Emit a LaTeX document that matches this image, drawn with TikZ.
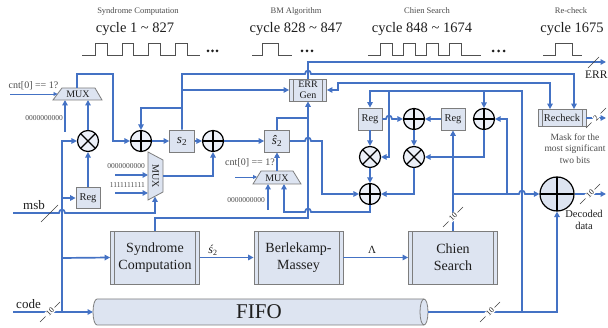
\documentclass[tikz,border=0pt]{standalone}
\usepackage{fontspec}
\setmainfont{Liberation Serif}
\usetikzlibrary{arrows.meta}
\definecolor{wireblue}{RGB}{68,114,196}
\definecolor{boxfill}{RGB}{221,228,241}
\definecolor{cfill}{RGB}{236,240,248}
\definecolor{boxline}{RGB}{125,125,125}
\definecolor{txt}{RGB}{30,30,30}
\definecolor{gtxt}{RGB}{75,75,75}
\definecolor{wavec}{RGB}{80,80,80}
\newcommand{\busmark}[4]{%
  \draw[black!75, line width=0.6pt] (#2-10,#3+10) -- (#2-4.5,#3+4.5) (#2+4.5,#3-4.5) -- (#2+10,#3-10);
  \node[rotate=45, font={\fontsize{8}{8}\selectfont}, inner sep=0.6pt, fill=white, text=txt] (#1) at (#2,#3) {#4};}
\tikzset{
  wr/.style={draw=wireblue, line width=1.7pt},
  arr/.style={wr, -{Triangle[length=5.5pt,width=5.5pt]}},
  arrtwo/.style={wr, {Triangle[length=5.5pt,width=5.5pt]}-{Triangle[length=5.5pt,width=5.5pt]}},
  thinarr/.style={draw=wireblue, line width=0.9pt, -{Triangle[length=4pt,width=4pt]}},
  blk/.style={draw=boxline, fill=boxfill, line width=0.8pt, inner sep=0pt, text=txt},
  proc/.style={blk, path picture={\draw[boxline, line width=0.8pt]
      ([xshift=4pt]path picture bounding box.south west) -- ([xshift=4pt]path picture bounding box.north west)
      ([xshift=-4pt]path picture bounding box.south east) -- ([xshift=-4pt]path picture bounding box.north east);}},
  opl/.style={circle, draw=black, line width=1.2pt, fill=cfill, minimum size=21pt, inner sep=0pt,
    path picture={\draw[line width=1.2pt] (path picture bounding box.north) -- (path picture bounding box.south)
      (path picture bounding box.west) -- (path picture bounding box.east);}},
  oti/.style={circle, draw=black, line width=1.2pt, fill=cfill, minimum size=21pt, inner sep=0pt,
    path picture={\draw[line width=1.2pt] (path picture bounding box.north west) -- (path picture bounding box.south east)
      (path picture bounding box.south west) -- (path picture bounding box.north east);}},
  wavepath/.style={draw=wavec, line width=0.9pt},
  zlab/.style={font={\fontsize{7.5}{8}\selectfont}, text=gtxt, anchor=east, inner sep=0pt},
  cntlab/.style={font={\fontsize{10}{10}\selectfont}, text=gtxt, inner sep=0pt},
  hd/.style={font={\fontsize{8.5}{9}\selectfont}, text=gtxt},
  cyc/.style={font={\fontsize{14.5}{14.5}\selectfont}, text=txt},
  muxtxt/.style={font={\fontsize{10}{10}\selectfont}, inner sep=0pt, text=txt},
  regbox/.style={blk, minimum width=24pt, minimum height=22pt, font={\fontsize{10.5}{10.5}\selectfont}},
  bigbox/.style={proc, minimum width=89pt, minimum height=53pt, align=center, font={\fontsize{14}{17}\selectfont}},
  slashline/.style={black!75, line width=0.6pt}
}
\begin{document}
\begin{tikzpicture}[x=1pt,y=-1pt]
\useasboundingbox (0,0) rectangle (608,328);
% ---------- timing ----------
\node[hd] (hd1) at (138,11) {Syndrome Computation};
\node[cyc] (cy1) at (135,29) {cycle 1 \textasciitilde{} 827};
\node[hd] (hd2) at (296,11) {BM Algorithm};
\node[cyc] (cy2) at (296,29) {cycle 828 \textasciitilde{} 847};
\node[hd] (hd3) at (427,11) {Chien Search};
\node[cyc] (cy3) at (422,29) {cycle 848 \textasciitilde{} 1674};
\node[hd] (hd4) at (571,11) {Re-check};
\node[cyc] (cy4) at (572,29) {cycle 1675};
\draw[wavepath] (82,55) -- (95,55) -- (95,43) -- (107,43) -- (107,55) -- (122,55) -- (122,43) -- (133,43) -- (133,55)
  -- (148,55) -- (148,43) -- (160,43) -- (160,55) -- (175,55) -- (175,43) -- (187,43) -- (187,55) -- (200,55);
\draw[wavepath] (252,55) -- (262,55) -- (262,43) -- (278,43) -- (278,55) -- (292,55);
\draw[wavepath] (368,55) -- (380,55) -- (380,43) -- (392,43) -- (392,55) -- (403,55) -- (403,43) -- (415,43) -- (415,55)
  -- (426,55) -- (426,43) -- (438,43) -- (438,55) -- (449,55) -- (449,43) -- (461,43) -- (461,55) -- (481,55);
\draw[wavepath] (543,55) -- (555,55) -- (555,43) -- (572,43) -- (572,55) -- (582,55);
\foreach \x in {208,212.5,217,302,307,312,493,498.5,504} \fill[txt] (\x,51) circle (1.5pt);
% ---------- nodes ----------
\node[oti] (ot1) at (88,141) {};
\node[opl] (op1) at (141,141) {};
\node[opl] (op2) at (213,141) {};
\node[oti] (ot2) at (370,157) {};
\node[oti] (ot3) at (414,157) {};
\node[opl] (op3) at (414,119) {};
\node[opl] (op4) at (484,119) {};
\node[opl] (op5) at (370,194) {};
\node[opl, minimum size=34pt, fill=boxfill] (opb) at (557,194) {};
\node[blk, minimum width=25pt, minimum height=22pt, font={\fontsize{13}{13}\selectfont}] (s2) at (182,141) {\textit{s}\textsubscript{2}};
\node[blk, minimum width=25pt, minimum height=22pt, font={\fontsize{13}{13}\selectfont}] (sh2) at (277,141) {\textit{ŝ}\textsubscript{2}};
\node[regbox, minimum height=21pt] (reg1) at (88,198) {Reg};
\node[regbox] (reg2) at (370,119) {Reg};
\node[regbox] (reg3) at (453,119) {Reg};
\node[proc, minimum width=37pt, minimum height=22pt, align=center, font={\fontsize{10}{11}\selectfont}] (errg) at (308,90) {ERR\\Gen};
\node[proc, minimum width=48pt, minimum height=17pt, font={\fontsize{10.5}{10.5}\selectfont}] (rchk) at (562,118) {Recheck};
\node[bigbox] (sc) at (155,257.5) {Syndrome\\Computation};
\node[bigbox] (bm) at (298.5,257.5) {Berlekamp-\\Massey};
\node[bigbox] (cs) at (453,257.5) {Chien\\Search};
% MUXes
\draw[blk] (53,100) -- (62,88) -- (95,88) -- (102,100) -- cycle;
\node[muxtxt] (mux1) at (78,94.5) {MUX};
\draw[blk] (148,152) -- (163,160) -- (163,192) -- (148,200) -- cycle;
\node[muxtxt, rotate=-90] (mux2) at (155.5,176) {MUX};
\draw[blk] (253,184) -- (261,171) -- (293,171) -- (301,184) -- cycle;
\node[muxtxt] (mux3) at (277,178) {MUX};
% FIFO
\filldraw[blk] (97,299) -- (424,299) arc[start angle=270, end angle=450, x radius=4, y radius=13]
  -- (97,325) arc[start angle=90, end angle=270, x radius=4, y radius=13] -- cycle;
\draw[boxline, line width=0.8pt] (424,299) arc[start angle=270, end angle=90, x radius=4, y radius=13];
\node[font={\fontsize{21}{21}\selectfont}, text=txt] (fifo) at (259,312) {FIFO};
% ---------- labels ----------
\node[cntlab] (cnt1) at (33.5,86) {cnt[0] == 1?};
\node[cntlab] (cnt2) at (250,163) {cnt[0] == 1?};
\node[zlab] (z1) at (63,118) {0000000000};
\node[zlab] (z2) at (145,166) {0000000000};
\node[zlab] (z3) at (145,185) {1111111111};
\node[zlab] (z4) at (265,200) {0000000000};
\node[font={\fontsize{13}{13}\selectfont}, text=txt] (codel) at (28.5,304) {code};
\node[font={\fontsize{13}{13}\selectfont}, text=txt] (msbl) at (34,205) {msb};
\node[font={\fontsize{12}{12}\selectfont}, text=txt] (s2l) at (213,250) {\textit{ś}\textsubscript{2}};
\node[font={\fontsize{11}{11}\selectfont}, text=txt] (laml) at (372,250) {Λ};
\node[font={\fontsize{11.5}{11.5}\selectfont}, text=txt, anchor=west, inner sep=0pt] (errl) at (585,75) {ERR};
\node[font={\fontsize{9.5}{11.5}\selectfont}, text=gtxt, align=center] (mask) at (575,148.5) {Mask for the\\most significant\\two bits};
\node[font={\fontsize{10.5}{12}\selectfont}, text=txt, align=center] (decl) at (584,220) {Decoded\\data};
% ---------- wires ----------
\draw[thinarr] (10,94) -- (57.5,94);
\draw[arr] (65,132) -- (65,100);
\draw[arr] (ot1.north) -- (88,100);
\draw[arr] (77,88) -- (77,74) -- (113,74) -- (113,141) -- (op1.west);
\draw[arr] (62,312) -- (62,141) -- (ot1.west);
\draw[arr] (62,198) -- (reg1.west);
\draw[arr] (62,258) -- (sc.west);
\draw[arr] (reg1.north) -- (ot1.south);
\draw[arr] (13,312) -- (93,312);
\busmark{bcode}{50}{312}{10}
\draw[arr] (13,213) -- (59,213) .. controls (59,208.5) and (65,208.5) .. (65,213) -- (155,213) -- (155,196.5);
\draw[slashline] (41,222) -- (58,205);
\draw[arr] (115,175) -- (148,175);
\draw[arr] (115,193) -- (148,193);
\draw[arr] (163,176) -- (213,176) -- (op2.south);
\draw[arr] (op1.east) -- (s2.west);
\draw[arr] (s2.east) -- (op2.west);
\draw[arr] (s2.north) -- (182,74) -- (305,74) .. controls (305,69.5) and (311,69.5) .. (311,74) -- (574,74) -- (574,0 |- rchk.north);
\draw[arr] (182,108) -- (141,108) -- (op1.north);
\draw[arr] (182,90) -- (errg.west);
\draw[arr] (errg.north) -- (308,62) -- (606,62);
\draw[slashline] (588,68) -- (599,57);
\draw[arrtwo] (errg.east) -- (338,90) -- (338,83) -- (550,83) -- (550,0 |- rchk.north);
\draw[arr] (op2.east) -- (sh2.west);
\draw[wr] (sh2.north) -- (277,118) -- (308,118);
\draw[arr] (sc.north) -- (155,218) -- (308,218) -- (errg.south);
\draw[arr] (sh2.east) -- (305,141) .. controls (305,136.5) and (311,136.5) .. (311,141) -- (322,141) -- (322,194) -- (op5.west);
\draw[arr] (277,171) -- (sh2.south);
\draw[thinarr] (235,177) -- (257,177);
\draw[arr] (268,210) -- (268,184);
\draw[arr] (op5.south) -- (370,212) -- (311,212) .. controls (311,207.5) and (305,207.5) .. (305,212) -- (284,212) -- (284,184);
\draw[arr] (sc.east) -- (bm.west);
\draw[arr] (bm.east) -- (cs.west);
\draw[arr] (cs.north) -- (reg3.south);
\busmark{bcs}{453}{217}{10}
\draw[arr] (453,194) -- (519,194) .. controls (519,189.5) and (525,189.5) .. (525,194) -- (opb.west);
\draw[arr] (507,194) -- (507,119) -- (op4.east);
\draw[arr] (op4.south) -- (484,157) -- (ot3.east);
\draw[arr] (reg3.west) -- (op3.east);
\draw[arr] (reg2.east) -- (386,119) .. controls (386,114.5) and (392,114.5) .. (392,119) -- (op3.west);
\draw[arr] (op3.south) -- (ot3.north);
\draw[arr] (reg2.south) -- (ot2.north);
\draw[arr] (ot2.south) -- (op5.north);
\draw[arr] (ot3.south) -- (414,194) -- (op5.east);
\draw[arr] (428,312) -- (557,312) -- (opb.south);
\busmark{bfo}{490}{312}{10}
\draw[arr] (522,312) -- (522,91) -- (370,91) -- (reg2.north);
\draw[arr] (484,91) -- (op4.north);
\draw[arr] (389,91) -- (389,157) -- (ot2.east);
\draw[arr] (rchk.east) -- (606,118);
\busmark{brc}{596}{118}{2}
\draw[arr] (opb.east) -- (606,194);
\busmark{bdec}{590}{194}{10}
\end{tikzpicture}
\end{document}
